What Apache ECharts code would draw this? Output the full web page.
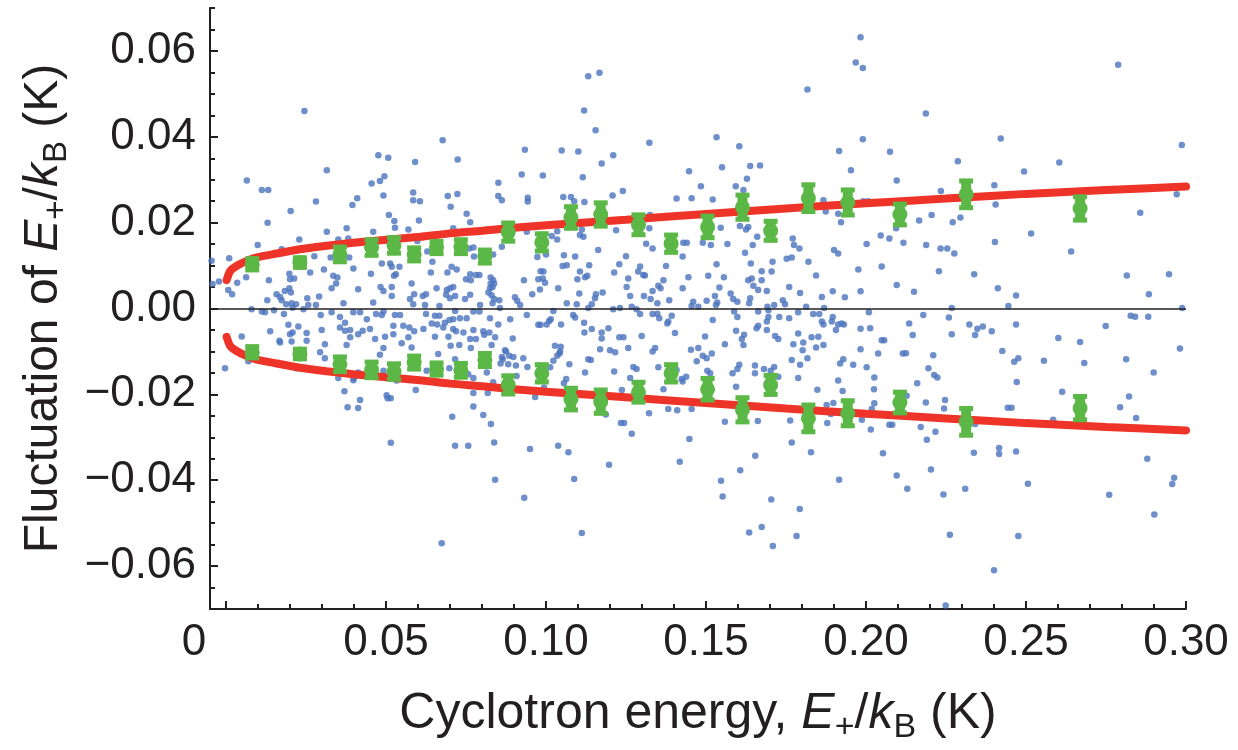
<!DOCTYPE html>
<html><head><meta charset="utf-8">
<script src="https://cdn.jsdelivr.net/npm/echarts@6/dist/echarts.min.js"></script>
<style>html,body{margin:0;padding:0;background:#fff}#c{width:1238px;height:750px}</style>
</head><body><div id="c"></div>
<script>
const xTickValues = [0, 0.05, 0.10, 0.15, 0.20, 0.25, 0.30];
const xTickLabels = ['0', '0.05', '0.10', '0.15', '0.20', '0.25', '0.30'];
const xMinorTicks = [0.01,0.02,0.03,0.04,0.06,0.07,0.08,0.09,0.11,0.12,0.13,0.14,0.16,0.17,0.18,0.19,0.21,0.22,0.23,0.24,0.26,0.27,0.28,0.29];
const yTickValues = [-0.06, -0.04, -0.02, 0, 0.02, 0.04, 0.06];
const yTickLabels = ['\u22120.06', '\u22120.04', '\u22120.02', '0.00', '0.02', '0.04', '0.06'];
const yMinorTicks = [-0.07,-0.065,-0.055,-0.05,-0.045,-0.035,-0.03,-0.025,-0.015,-0.01,-0.005,0.005,0.01,0.015,0.025,0.03,0.035,0.045,0.05,0.055,0.065,0.07];

// green averaged points with error bars
const greenX = [0.0082,0.0231,0.0356,0.0455,0.0525,0.0588,0.0658,0.0734,0.0809,0.0882,0.0987,0.1078,0.1171,0.1289,0.1391,0.1505,0.1614,0.1702,0.1820,0.1943,0.2106,0.2313,0.2669];
const greenUpper = [0.0103,0.0107,0.0126,0.0142,0.0147,0.0126,0.0142,0.0144,0.0121,0.0178,0.0154,0.0212,0.0219,0.0195,0.0151,0.0190,0.0236,0.0181,0.0257,0.0247,0.0219,0.0266,0.0233];
const greenLower = [-0.0102,-0.0106,-0.0130,-0.0143,-0.0147,-0.0126,-0.0141,-0.0144,-0.0120,-0.0178,-0.0151,-0.0211,-0.0217,-0.0195,-0.0151,-0.0188,-0.0236,-0.0178,-0.0256,-0.0244,-0.0219,-0.0264,-0.0232];
const greenErr = [0.0012,0.0010,0.0016,0.0017,0.0017,0.0014,0.0013,0.0015,0.0014,0.0020,0.0019,0.0024,0.0026,0.0022,0.0019,0.0024,0.0027,0.0021,0.0030,0.0028,0.0023,0.0030,0.0026];

// red model curve (upper branch; lower branch is its mirror)
const curveX = [0.0002,0.0013,0.0033,0.0065,0.0096,0.0158,0.0231,0.0315,0.0398,0.0502,0.0606,0.0700,0.0800,0.0900,0.1000,0.1250,0.1500,0.1750,0.2000,0.2250,0.2500,0.2750,0.3000];
const curveY = [0.0066,0.0087,0.0099,0.0111,0.0119,0.0128,0.0138,0.0146,0.0153,0.0160,0.0167,0.0175,0.0181,0.0188,0.0194,0.0207,0.0220,0.0233,0.0245,0.0256,0.0267,0.0276,0.0284];

// individual measurements [E, fluctuation]
const dots = [
[0.0315,0.0179],[0.0377,0.0187],[0.0460,0.0179],[0.0528,0.0188],[0.0570,0.0184],[0.0229,0.0161],[0.0351,0.0161],[0.0099,0.0148],[0.0174,0.0138],[0.0169,0.0130],[0.0010,0.0117],[0.0276,0.0122],[0.0327,0.0119],[0.0385,0.0119],[0.0556,0.0163],[0.0598,0.0157],[0.0487,0.0105],[0.0513,0.0105],[0.0518,0.0097],[0.0542,0.0097],[0.0263,0.0084],[0.0306,0.0091],[0.0398,0.0093],[0.0453,0.0081],[0.0063,0.0073],[0.0198,0.0081],[0.0213,0.0070],[0.0200,0.0068],[0.0335,0.0076],[0.0348,0.0072],[0.0525,0.0076],[0.0531,0.0080],[0.0344,0.0058],[-0.0022,0.0063],[0.0035,0.0060],[0.0134,0.0066],[0.0007,0.0043],[0.0019,0.0033],[0.0198,0.0047],[0.0184,0.0041],[0.0203,0.0037],[0.0158,0.0033],[0.0169,0.0027],[0.0174,0.0019],[0.0188,0.0010],[0.0129,0.0019],[0.0219,0.0010],[0.0254,0.0024],[0.0291,0.0028],[0.0330,0.0047],[0.0413,0.0045],[0.0483,0.0050],[0.0492,0.0041],[0.0518,0.0050],[0.0518,0.0029],[0.0580,0.0058],[0.0588,0.0033],[0.0575,0.0022],[0.0460,0.0014],[0.0367,0.0012],[0.0257,0.0008],[0.0281,0.0008],[0.0205,0.0012],[0.0585,0.0010],[-0.0045,0.0111],[-0.0042,0.0057],
[0.0080,-0.0002],[0.0112,-0.0007],[0.0122,-0.0009],[0.0150,-0.0004],[0.0181,-0.0013],[0.0208,0.0002],[0.0242,-0.0002],[0.0296,-0.0015],[0.0330,-0.0009],[0.0398,-0.0009],[0.0419,-0.0009],[0.0469,-0.0013],[0.0492,-0.0007],[0.0487,-0.0015],[0.0528,-0.0015],[0.0544,-0.0015],[0.0356,-0.0020],[0.0440,-0.0025],[0.0372,-0.0033],[0.0195,-0.0038],[0.0226,-0.0042],[0.0138,-0.0053],[0.0208,-0.0056],[0.0200,-0.0060],[0.0252,-0.0057],[0.0299,-0.0050],[0.0356,-0.0044],[0.0372,-0.0052],[0.0388,-0.0050],[0.0413,-0.0060],[0.0427,-0.0052],[0.0450,-0.0048],[0.0523,-0.0040],[0.0523,-0.0060],[0.0554,-0.0040],[0.0573,-0.0044],[0.0588,-0.0053],[0.0570,-0.0067],[0.0497,-0.0066],[0.0466,-0.0071],[0.0388,-0.0067],[0.0049,-0.0065],[0.0167,-0.0075],[0.0169,-0.0079],[0.0205,-0.0077],[0.0252,-0.0075],[0.0309,-0.0083],[0.0377,-0.0085],[0.0492,-0.0092],[0.0549,-0.0081],[0.0481,-0.0108],[0.0294,-0.0102],[0.0309,-0.0116],[0.0580,-0.0091],[-0.0003,-0.0139],[0.0070,-0.0123],[0.0219,-0.0139],[0.0354,-0.0128],[0.0351,-0.0162],[0.0398,-0.0167],[0.0413,-0.0149],[0.0492,-0.0145],[0.0533,-0.0168],[0.0370,-0.0193],[0.0400,-0.0162],
[0.0245,0.0460],[0.0065,0.0298],[0.0112,0.0276],[0.0132,0.0276],[0.0130,0.0200],[0.0202,0.0227],[0.0315,0.0322],[0.0281,0.0249],[0.0476,0.0357],[0.0507,0.0351],[0.0455,0.0291],[0.0481,0.0297],[0.0495,0.0308],[0.0492,0.0263],[0.0410,0.0257],[0.0395,0.0241],[0.0509,0.0218],[0.0526,0.0204],[0.0591,0.0341],[0.0585,0.0270],[0.0585,0.0252],[0.0606,0.0250],[0.0603,0.0205],[0.0382,0.0163],
[0.0677,0.0392],[0.0724,0.0347],[0.0693,0.0262],[0.0723,0.0267],[0.0702,0.0237],[0.0752,0.0221],[0.0763,0.0201],[0.0934,0.0370],[0.0924,0.0312],[0.0851,0.0293],[0.0851,0.0262],[0.0862,0.0252],[0.0943,0.0258],[0.0943,0.0249],[0.0990,0.0310],
[0.0380,-0.0230],[0.0413,-0.0232],[0.0419,-0.0213],[0.0502,-0.0202],[0.0505,-0.0209],[0.0515,-0.0209],[0.0515,-0.0313],[0.0593,-0.0190],[0.0674,-0.0547],[0.0707,-0.0252],[0.0716,-0.0320],[0.0757,-0.0320],[0.0773,-0.0228],[0.0773,-0.0197],[0.0804,-0.0248],[0.0828,-0.0269],[0.0838,-0.0312],[0.0841,-0.0399],[0.0932,-0.0441],[0.0950,-0.0327],[0.0966,-0.0206],[0.0818,-0.0197],
[0.0710,0.0187],[0.1035,0.0180],[0.1112,0.0184],[0.1219,0.0182],[0.0940,0.0179],[0.1018,0.0169],[0.1106,0.0171],[0.1117,0.0167],[0.1035,0.0161],[0.0862,0.0144],[0.0773,0.0142],[0.0760,0.0140],[0.0629,0.0133],[0.0775,0.0121],[0.0835,0.0126],[0.0973,0.0120],[0.1000,0.0126],[0.1056,0.0124],[0.1091,0.0121],[0.1163,0.0136],[0.1250,0.0122],[0.0645,0.0109],[0.1229,0.0103],[0.1052,0.0099],[0.1065,0.0101],[0.1135,0.0101],[0.0705,0.0097],[0.0721,0.0091],[0.0640,0.0084],[0.0692,0.0084],[0.0983,0.0087],[0.0992,0.0086],[0.1106,0.0086],[0.1213,0.0084],[0.0763,0.0080],[0.0781,0.0078],[0.0792,0.0078],[0.0750,0.0068],[0.0765,0.0066],[0.0827,0.0072],[0.0835,0.0066],[0.0976,0.0068],[0.0990,0.0070],[0.0997,0.0060],[0.0931,0.0066],[0.1098,0.0068],[0.1122,0.0073],[0.1129,0.0076],[0.1257,0.0070],[0.0827,0.0058],[0.0838,0.0058],[0.0833,0.0050],[0.0825,0.0047],[0.0710,0.0050],[0.0700,0.0047],[0.0690,0.0043],[0.0658,0.0047],[0.1038,0.0047],[0.0981,0.0044],[0.1177,0.0037],[0.1252,0.0050],[0.0615,0.0029],[0.0625,0.0033],[0.0688,0.0032],[0.0716,0.0029],[0.0763,0.0032],[0.0820,0.0037],[0.0830,0.0031],[0.0838,0.0022],[0.0854,0.0019],[0.0833,0.0012],[0.0747,0.0022],[0.0794,0.0008],[0.0700,0.0024],[0.0903,0.0026],[0.0910,0.0018],[0.0919,0.0008],[0.0957,0.0033],[0.1104,0.0035],[0.1156,0.0033],[0.1153,0.0024],[0.1143,0.0010],[0.1065,0.0012],[0.1096,0.0010],[0.0667,0.0006],[0.0622,0.0008],
[0.0716,-0.0006],[0.0653,-0.0017],[0.0667,-0.0017],[0.0625,-0.0013],[0.0773,-0.0007],[0.0792,-0.0007],[0.0856,0.0001],[0.0888,-0.0025],[0.0825,-0.0023],[0.0940,-0.0015],[0.1023,-0.0006],[0.1085,-0.0015],[0.1091,-0.0021],[0.1132,0.0001],[0.1210,-0.0002],[0.1231,0.0001],[0.0752,-0.0023],[0.0710,-0.0025],[0.0643,-0.0035],[0.0660,-0.0037],[0.0684,-0.0033],[0.0698,-0.0027],[0.0731,-0.0023],[0.0851,-0.0037],[0.0976,-0.0038],[0.0983,-0.0038],[0.1002,-0.0037],[0.1015,-0.0025],[0.1010,-0.0029],[0.1047,-0.0037],[0.1119,-0.0033],[0.0617,-0.0048],[0.0679,-0.0044],[0.0710,-0.0048],[0.0719,-0.0053],[0.0742,-0.0056],[0.0773,-0.0050],[0.0804,-0.0053],[0.0823,-0.0056],[0.0807,-0.0061],[0.1195,-0.0046],[0.1174,-0.0056],[0.1143,-0.0048],[0.1120,-0.0056],[0.0653,-0.0066],[0.0695,-0.0066],[0.0763,-0.0071],[0.0781,-0.0071],[0.0841,-0.0067],[0.0896,-0.0070],[0.1174,-0.0070],[0.1229,-0.0067],[0.1242,-0.0067],[0.0702,-0.0087],[0.0729,-0.0085],[0.0765,-0.0092],[0.0830,-0.0085],[0.0872,-0.0097],[0.1028,-0.0087],[0.1046,-0.0089],[0.1044,-0.0100],[0.1169,-0.0095],[0.1200,-0.0097],[0.1216,-0.0102],[0.1257,-0.0092],[0.0663,-0.0106],[0.0716,-0.0118],[0.0862,-0.0113],[0.0865,-0.0118],[0.0885,-0.0110],[0.0898,-0.0113],[0.0875,-0.0100],[0.0929,-0.0116],[0.1023,-0.0122],[0.1035,-0.0110],[0.1042,-0.0105],[0.1073,-0.0130],[0.1132,-0.0118],[0.1140,-0.0120],[0.0627,-0.0145],[0.0698,-0.0139],[0.0858,-0.0128],[0.0882,-0.0130],[0.0906,-0.0133],[0.0942,-0.0136],[0.1013,-0.0137],[0.1122,-0.0149],[0.1213,-0.0147],[0.0757,-0.0153],[0.0815,-0.0149],[0.0908,-0.0157],[0.0773,-0.0162],[0.1063,-0.0164],[0.0835,-0.0172],[0.0994,-0.0184],[0.1056,-0.0174],[0.1237,-0.0190],
[0.1323,0.0187],[0.1546,0.0188],[0.1606,0.0192],[0.1625,0.0184],[0.1632,0.0190],[0.1429,0.0153],[0.1440,0.0153],[0.1313,0.0151],[0.1333,0.0140],[0.1490,0.0153],[0.1515,0.0148],[0.1567,0.0150],[0.1660,0.0167],[0.1646,0.0148],[0.1771,0.0163],[0.1775,0.0148],[0.1792,0.0140],[0.1622,0.0130],[0.1427,0.0121],[0.1900,0.0136],[0.1913,0.0128],[0.1752,0.0116],[0.1768,0.0119],[0.1708,0.0109],[0.1820,0.0109],[0.1640,0.0105],[0.1533,0.0103],[0.1375,0.0099],[0.1294,0.0098],[0.1288,0.0086],[0.1304,0.0078],[0.1309,0.0077],[0.1674,0.0087],[0.1705,0.0086],[0.1445,0.0073],[0.1507,0.0076],[0.1556,0.0073],[0.1632,0.0066],[0.1643,0.0070],[0.1674,0.0066],[0.1844,0.0077],[0.1367,0.0066],[0.1351,0.0053],[0.1358,0.0047],[0.1333,0.0041],[0.1427,0.0047],[0.1542,0.0049],[0.1648,0.0053],[0.1663,0.0043],[0.1690,0.0041],[0.1760,0.0050],[0.1794,0.0036],[0.1896,0.0040],[0.1263,0.0029],[0.1306,0.0029],[0.1327,0.0022],[0.1385,0.0019],[0.1348,0.0012],[0.1460,0.0016],[0.1455,0.0006],[0.1502,0.0018],[0.1528,0.0029],[0.1535,0.0014],[0.1531,0.0008],[0.1577,0.0035],[0.1585,0.0022],[0.1598,0.0016],[0.1638,0.0024],[0.1635,0.0012],[0.1740,0.0019],[0.1747,0.0010],[0.1713,0.0008],[0.1692,0.0004],[0.1862,0.0027],[0.1813,0.0004],[0.1869,0.0001],[0.1268,0.0004],
[0.1283,-0.0002],[0.1294,-0.0013],[0.1333,-0.0013],[0.1348,-0.0012],[0.1354,-0.0023],[0.1393,-0.0017],[0.1382,-0.0030],[0.1379,-0.0035],[0.1476,0.0004],[0.1521,-0.0027],[0.1588,-0.0007],[0.1598,-0.0020],[0.1663,-0.0007],[0.1695,-0.0004],[0.1695,-0.0020],[0.1690,-0.0030],[0.1729,-0.0020],[0.1760,-0.0023],[0.1788,-0.0009],[0.1835,-0.0013],[0.1854,-0.0013],[0.1862,-0.0030],[0.1867,-0.0037],[0.1896,-0.0020],[0.1893,-0.0030],[0.1906,-0.0050],[0.1913,-0.0037],[0.1663,-0.0040],[0.1658,-0.0046],[0.1690,-0.0050],[0.1594,-0.0052],[0.1619,-0.0061],[0.1612,-0.0071],[0.1617,-0.0085],[0.1716,-0.0064],[0.1726,-0.0071],[0.1788,-0.0058],[0.1804,-0.0079],[0.1830,-0.0067],[0.1851,-0.0066],[0.1867,-0.0085],[0.1773,-0.0083],[0.1844,-0.0091],[0.1802,-0.0097],[0.1817,-0.0116],[0.1768,-0.0120],[0.1403,-0.0057],[0.1299,-0.0064],[0.1497,-0.0065],[0.1559,-0.0083],[0.1341,-0.0092],[0.1333,-0.0100],[0.1453,-0.0096],[0.1476,-0.0092],[0.1518,-0.0105],[0.1490,-0.0110],[0.1502,-0.0116],[0.1471,-0.0123],[0.1273,-0.0136],[0.1283,-0.0141],[0.1351,-0.0137],[0.1408,-0.0143],[0.1504,-0.0145],[0.1513,-0.0151],[0.1583,-0.0151],[0.1604,-0.0131],[0.1598,-0.0141],[0.1653,-0.0133],[0.1653,-0.0151],[0.1681,-0.0141],[0.1713,-0.0136],[0.1702,-0.0145],[0.1794,-0.0131],[0.1726,-0.0159],[0.1788,-0.0162],[0.1263,-0.0162],[0.1424,-0.0164],[0.1438,-0.0159],[0.1427,-0.0170],[0.1367,-0.0188],[0.1594,-0.0182],[0.1848,-0.0189],[0.1913,-0.0168],
[0.2046,0.0170],[0.2073,0.0163],[0.2002,0.0150],[0.2117,0.0153],[0.2188,0.0148],[0.2233,0.0140],[0.2254,0.0140],[0.2276,0.0128],[0.2403,0.0155],[0.2516,0.0175],[0.1976,0.0091],[0.2049,0.0098],[0.2228,0.0087],[0.2338,0.0080],[0.2096,0.0055],[0.1983,0.0040],[0.2150,0.0039],[0.2412,0.0047],[0.2469,0.0030],[0.1934,0.0026],[0.2445,0.0006],[0.2268,0.0001],
[0.2009,-0.0009],[0.2179,-0.0015],[0.2259,-0.0021],[0.1924,-0.0035],[0.1931,-0.0037],[0.1983,-0.0047],[0.2013,-0.0046],[0.2135,-0.0035],[0.2323,-0.0037],[0.2348,-0.0047],[0.2365,-0.0042],[0.2393,-0.0053],[0.2469,-0.0037],[0.2146,-0.0062],[0.2268,-0.0060],[0.2341,-0.0062],[0.2049,-0.0074],[0.2057,-0.0074],[0.1983,-0.0095],[0.2038,-0.0105],[0.2115,-0.0105],[0.2125,-0.0104],[0.2210,-0.0109],[0.2426,-0.0099],[0.1929,-0.0118],[0.1919,-0.0128],[0.1960,-0.0131],[0.2002,-0.0137],[0.2195,-0.0139],[0.2476,-0.0116],[0.2463,-0.0124],[0.2556,-0.0122],[0.2026,-0.0161],[0.2213,-0.0155],[0.2223,-0.0161],[0.2160,-0.0174],[0.2471,-0.0171],[0.2025,-0.0188],[0.1927,-0.0192],
[0.1132,0.0541],[0.1167,0.0549],[0.1119,0.0461],[0.1155,0.0415],[0.1174,0.0338],[0.1210,0.0357],[0.1049,0.0368],[0.1101,0.0366],[0.1115,0.0306],[0.1120,0.0248],[0.1054,0.0260],[0.1078,0.0260],[0.1088,0.0250],[0.1208,0.0263],[0.1240,0.0274],[0.1323,0.0386],[0.1447,0.0320],[0.1484,0.0285],[0.1408,0.0256],[0.1455,0.0257],[0.1521,0.0254],[0.1533,0.0399],[0.1550,0.0329],[0.1604,0.0378],[0.1593,0.0285],[0.1617,0.0276],[0.1628,0.0302],[0.1638,0.0332],[0.1669,0.0333],[0.1817,0.0510],[0.1983,0.0632],[0.1968,0.0573],[0.1990,0.0560],[0.1990,0.0394],[0.1916,0.0367],[0.1953,0.0322],[0.1867,0.0252],[0.1874,0.0226],[0.1913,0.0221],[0.1922,0.0201],[0.1992,0.0250],[0.2007,0.0250],[0.1325,0.0218],[0.1216,0.0204],
[0.2788,0.0568],[0.2187,0.0454],[0.2421,0.0396],[0.2987,0.0381],[0.2075,0.0365],[0.2287,0.0343],[0.2604,0.0340],[0.2494,0.0319],[0.2096,0.0298],[0.2401,0.0287],[0.2234,0.0274],[0.2405,0.0242],[0.2971,0.0266],[0.2857,0.0223],[0.2205,0.0218],[0.2166,0.0205],[0.2271,0.0201],[0.2295,0.0212],[0.2094,0.0187],[0.2641,0.0133],[0.2815,0.0077],[0.2884,0.0033],[0.2947,0.0080],[0.2988,0.0001],
[0.2601,-0.0069],[0.2669,-0.0078],[0.2682,-0.0127],[0.2613,-0.0194],[0.2749,-0.0041],[0.2813,-0.0118],[0.2827,-0.0017],[0.2841,-0.0019],[0.2882,-0.0019],[0.2899,-0.0149],[0.2822,-0.0205],[0.2794,-0.0230],[0.2844,-0.0255],[0.2981,-0.0093],[0.2026,-0.0221],[0.2015,-0.0282],[0.2053,-0.0337],[0.2096,-0.0389],[0.2129,-0.0420],[0.2073,-0.0271],[0.2082,-0.0271],[0.2127,-0.0203],[0.2171,-0.0276],[0.2190,-0.0306],[0.2187,-0.0219],[0.2217,-0.0287],[0.2203,-0.0375],[0.2247,-0.0213],[0.2244,-0.0233],[0.2242,-0.0433],[0.2262,-0.0527],[0.2249,-0.0692],[0.2310,-0.0420],[0.2337,-0.0336],[0.2341,-0.0269],[0.2400,-0.0610],[0.2416,-0.0325],[0.2416,-0.0339],[0.2443,-0.0231],[0.2455,-0.0231],[0.2469,-0.0333],[0.2476,-0.0530],[0.2506,-0.0408],[0.2585,-0.0259],[0.2760,-0.0434],[0.2879,-0.0350],[0.2901,-0.0480],[0.2957,-0.0409],[0.2963,-0.0394],
[0.1038,-0.0320],[0.1070,-0.0335],[0.1088,-0.0397],[0.1112,-0.0523],[0.1197,-0.0364],[0.1268,-0.0292],[0.1322,-0.0244],[0.1234,-0.0267],[0.1244,-0.0267],[0.1187,-0.0247],[0.1382,-0.0234],[0.1410,-0.0237],[0.1418,-0.0357],[0.1448,-0.0304],[0.1455,-0.0234],[0.1547,-0.0401],[0.1552,-0.0438],[0.1559,-0.0264],[0.1607,-0.0377],[0.1635,-0.0522],[0.1654,-0.0343],[0.1662,-0.0262],[0.1674,-0.0509],[0.1704,-0.0445],[0.1709,-0.0553],[0.1763,-0.0261],[0.1768,-0.0312],[0.1783,-0.0530],[0.1793,-0.0467],[0.1828,-0.0335],[0.1879,-0.0267],[0.1890,-0.0246],[0.1898,-0.0220],[0.1916,-0.0399],[0.1987,-0.0259],[0.2018,-0.0234],[0.1877,-0.0225]
];

const FONT = "'Liberation Sans', Arial, Helvetica, sans-serif";
const INK = '#231f20';
const BLUE = '#4b73be';
const RED = '#ee3428';
const GREEN = '#5cb846';

function lookup(vals, labels, v) {
  for (let i = 0; i < vals.length; i++) if (Math.abs(vals[i] - v) < 1e-9) return labels[i];
  return '';
}

const upperCurve = curveX.map((x, i) => [x, curveY[i]]);
const lowerCurve = curveX.map((x, i) => [x, -curveY[i]]);
const greenUp = greenX.map((x, i) => [x, greenUpper[i], greenErr[i]]);
const greenDn = greenX.map((x, i) => [x, greenLower[i], greenErr[i]]);

function renderErr(params, api) {
  const x = api.value(0), y = api.value(1), e = api.value(2);
  const c = api.coord([x, y]);
  const t = api.coord([x, y + e]);
  const b = api.coord([x, y - e]);
  return {
    type: 'group',
    children: [
      { type: 'line', shape: { x1: c[0], y1: t[1], x2: c[0], y2: b[1] }, style: { stroke: GREEN, lineWidth: 10 } },
      { type: 'rect', shape: { x: c[0] - 7, y: t[1] - 3, width: 14, height: 5 }, style: { fill: GREEN } },
      { type: 'rect', shape: { x: c[0] - 7, y: b[1] - 2, width: 14, height: 5 }, style: { fill: GREEN } },
      { type: 'circle', shape: { cx: c[0], cy: c[1], r: 7.5 }, style: { fill: GREEN } }
    ]
  };
}

function nameRich(size) {
  return {
    i: { fontStyle: 'italic', fontSize: size, fontFamily: FONT, color: INK },
    sub: { fontSize: Math.round(size * 0.68), fontFamily: FONT, color: INK, padding: [Math.round(size * 0.56), 0, 0, 0] }
  };
}

const chart = echarts.init(document.getElementById('c'), null, { renderer: 'canvas' });
chart.setOption({
  animation: false,
  backgroundColor: '#ffffff',
  grid: { left: 210, right: 52, top: 8, bottom: 140, containLabel: false },
  xAxis: [{
    type: 'value', min: -0.005, max: 0.30, position: 'bottom',
    axisLine: { show: true, onZero: false, lineStyle: { color: INK, width: 2 } },
    axisTick: { show: true, inside: true, length: 8, lineStyle: { color: INK, width: 2 }, customValues: xTickValues },
    axisLabel: {
      customValues: xTickValues, margin: 12, fontSize: 44, fontFamily: FONT, color: INK,
      formatter: v => { const s = lookup(xTickValues, xTickLabels, v); return Math.abs(v) < 1e-9 ? '{z|' + s + '}' : s; },
      rich: { z: { fontSize: 44, fontFamily: FONT, color: INK, padding: [0, 64, 0, 0] } }
    },
    splitLine: { show: false },
    name: 'Cyclotron energy, {i|E}{sub|+}/{i|k}{sub|B} (K)',
    nameLocation: 'middle', nameGap: 74,
    nameTextStyle: { fontSize: 50, fontFamily: FONT, color: INK, rich: nameRich(50) }
  }, {
    type: 'value', min: -0.005, max: 0.30, position: 'bottom', gridIndex: 0,
    axisLine: { show: false, onZero: false }, axisLabel: { show: false }, splitLine: { show: false },
    axisTick: { show: true, inside: true, length: 5, lineStyle: { color: INK, width: 2 }, customValues: xMinorTicks }
  }],
  yAxis: [{
    type: 'value', min: -0.07, max: 0.07, position: 'left',
    axisLine: { show: true, onZero: false, lineStyle: { color: INK, width: 2 } },
    axisTick: { show: true, inside: true, length: 8, lineStyle: { color: INK, width: 2 }, customValues: yTickValues },
    axisLabel: {
      customValues: yTickValues, margin: 14, fontSize: 44, fontFamily: FONT, color: INK,
      formatter: v => lookup(yTickValues, yTickLabels, v)
    },
    splitLine: { show: false },
    name: 'Fluctuation of {i|E}{sub|+}/{i|k}{sub|B} (K)',
    nameLocation: 'middle', nameGap: 134, nameRotate: 90,
    nameTextStyle: { fontSize: 48, fontFamily: FONT, color: INK, rich: nameRich(48) }
  }, {
    type: 'value', min: -0.07, max: 0.07, position: 'left', gridIndex: 0,
    axisLine: { show: false, onZero: false }, axisLabel: { show: false }, splitLine: { show: false },
    axisTick: { show: true, inside: true, length: 5, lineStyle: { color: INK, width: 2 }, customValues: yMinorTicks }
  }],
  series: [
    {
      type: 'scatter', data: dots, symbol: 'circle', symbolSize: 6.5,
      itemStyle: { color: BLUE }, z: 2, silent: true,
      markLine: {
        silent: true, symbol: ['none', 'none'], label: { show: false },
        lineStyle: { color: INK, width: 1.5, type: 'solid' },
        data: [{ yAxis: 0 }]
      }
    },
    { type: 'line', data: upperCurve, showSymbol: false, smooth: 0.25, z: 4,
      lineStyle: { color: RED, width: 8, cap: 'round' } },
    { type: 'line', data: lowerCurve, showSymbol: false, smooth: 0.25, z: 4,
      lineStyle: { color: RED, width: 8, cap: 'round' } },
    { type: 'custom', data: greenUp, renderItem: renderErr, z: 5, clip: false, encode: { x: 0, y: 1 } },
    { type: 'custom', data: greenDn, renderItem: renderErr, z: 5, clip: false, encode: { x: 0, y: 1 } }
  ]
});
</script>
</body></html>
